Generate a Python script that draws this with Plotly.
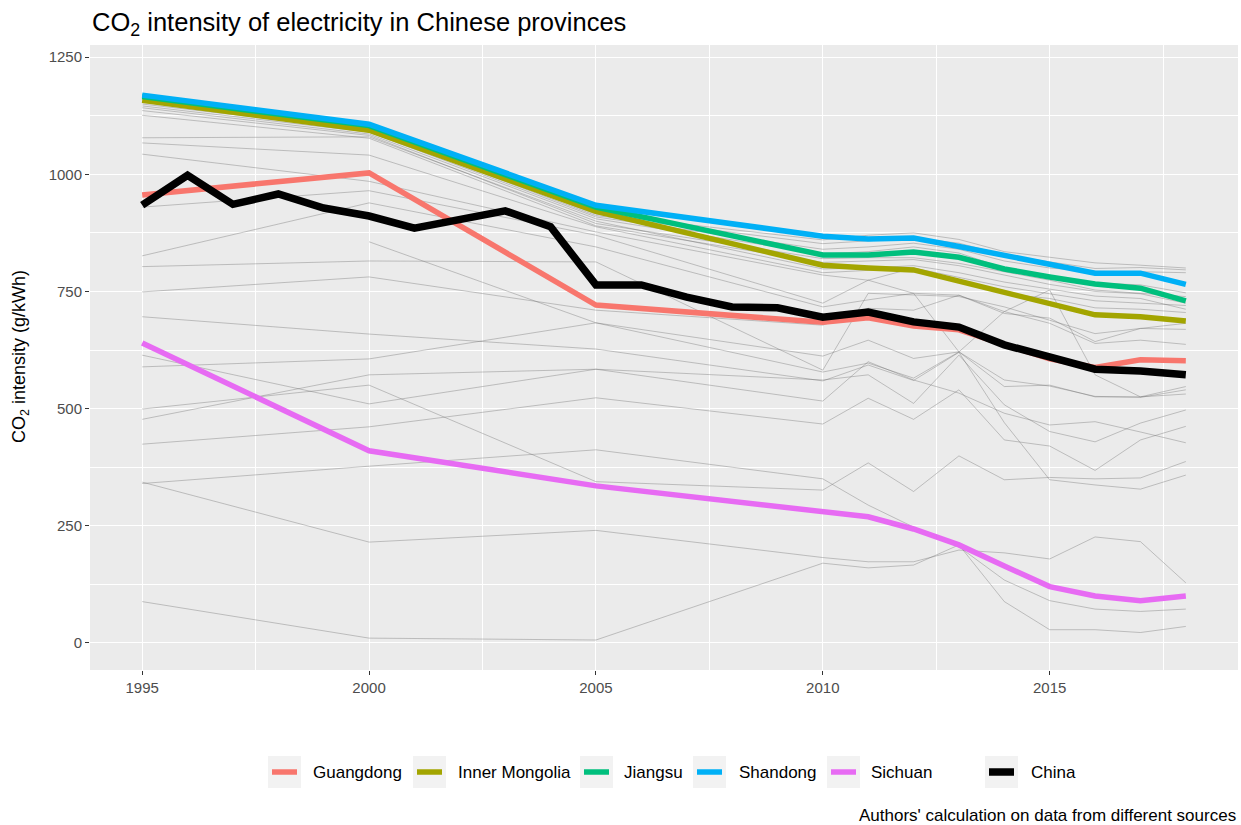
import plotly.graph_objects as go

# ---------------- data ----------------
years_prov = [1995, 2000, 2005, 2010, 2011, 2012, 2013, 2014, 2015, 2016, 2017, 2018]
years_china = list(range(1995, 2019))

guangdong = [956, 1003, 721, 684, 694, 676, 668, 636, 606, 588, 604, 602]
inner_mongolia = [1158, 1094, 921, 806, 800, 796, 772, 749, 725, 700, 696, 687]
jiangsu = [1166, 1104, 930, 828, 828, 834, 823, 798, 781, 766, 757, 730]
shandong = [1169, 1107, 934, 868, 862, 864, 846, 826, 808, 789, 789, 765]
sichuan = [640, 410, 335, 279, 269, 243, 209, 164, 120, 100, 90, 100]
china = [934, 998, 936, 958, 928, 911, 885, 903, 922, 888, 764, 764,
         738, 717, 715, 695, 706, 685, 674, 636, 608, 584, 580, 572]

# other provinces (grey)
other_01 = [1154, 1098, 915, 860, 870, 875, 861, 835, 823, 811, 806, 800]
other_02 = [1150, 1094, 912, 852, 858, 864, 853, 828, 813, 799, 801, 796]
other_03 = [1146, 1090, 909, 840, 845, 853, 840, 815, 800, 793, 792, 790]
other_04 = [1142, 1086, 905, 830, 835, 845, 832, 800, 781, 768, 764, 747]
other_05 = [1136, 1083, 895, 820, 822, 822, 810, 792, 774, 753, 746, 739]
other_06 = [1126, 1077, 890, 812, 815, 818, 805, 785, 765, 750, 745, 725]
other_07 = [1078, 1080, 900, 798, 800, 805, 790, 770, 755, 740, 735, 712]
other_08 = [1067, 1041, 888, 790, 795, 800, 775, 745, 735, 715, 712, 705]
other_09 = [1043, 985, 877, 785, 774, 746, 621, 561, 548, 526, 524, 540]
other_10 = [930, 965, 870, 725, 774, 800, 780, 760, 745, 730, 725, 720]
other_11 = [826, 939, 845, 717, 732, 746, 742, 703, 693, 643, 671, 682]
other_12 = [803, 815, 813, 582, 746, 742, 739, 717, 689, 660, 671, 669]
other_13 = [749, 781, 710, 678, 714, 710, 742, 707, 682, 639, 646, 637]
other_14 = [None, 856, 683, 612, 646, 607, 621, 707, 753, 572, 525, 547]
other_15 = [589, 606, 683, 578, 597, 565, 621, 547, 550, 525, 525, 531]
other_16 = [696, 659, 627, 559, 593, 560, 620, 470, 348, 337, 328, 358]
other_17 = [477, 572, 584, 561, 572, 511, 614, 508, 451, 429, 469, 497]
other_18 = [614, 510, 584, 516, 600, 561, 533, 490, 465, 472, 450, 427]
other_19 = [424, 461, 523, 467, 522, 477, 540, 433, 420, 368, 433, 462]
other_20 = [499, 550, 344, 326, 384, 323, 399, 348, 353, 350, 352, 387]
other_21 = [340, 377, 412, 350, 294, 247, 205, 134, 90, 72, 67, 72]
other_22 = [343, 215, 240, 182, 173, 173, 198, 192, 179, 226, 216, 128]
other_23 = [88, 10, 6, 170, 160, 166, 209, 88, 28, 28, 22, 35]

y_ticks = [0, 250, 500, 750, 1000, 1250]
x_ticks = [1995, 2000, 2005, 2010, 2015]

legend_names = ["Guangdong", "Inner Mongolia", "Jiangsu", "Shandong", "Sichuan", "China"]
legend_colors = ["#F8766D", "#A3A500", "#00BF7D", "#00B0F6", "#E76BF3", "#000000"]

# ---------------- figure ----------------
FONT = "Liberation Sans, Arial, sans-serif"
W, H = 1241, 825
L, R, T, B = 90, 3, 45, 155
PW, PH = W - L - R, H - T - B

def px_x(px):
    return (px - L) / PW

def px_y(py):
    return (H - B - py) / PH

fig = go.Figure()

others = [other_01, other_02, other_03, other_04, other_05, other_06, other_07, other_08,
          other_09, other_10, other_11, other_12, other_13, other_14, other_15, other_16,
          other_17, other_18, other_19, other_20, other_21, other_22, other_23]
for vals in others:
    fig.add_trace(go.Scatter(x=years_prov, y=vals, mode="lines",
                             line=dict(color="rgba(110,110,110,0.42)", width=0.9),
                             showlegend=False, hoverinfo="skip"))

highlight = [guangdong, inner_mongolia, jiangsu, shandong, sichuan]
for name, col, vals in zip(legend_names[:5], legend_colors[:5], highlight):
    fig.add_trace(go.Scatter(x=years_prov, y=vals, mode="lines", name=name,
                             line=dict(color=col, width=5.5), showlegend=False))

fig.add_trace(go.Scatter(x=years_china, y=china, mode="lines", name="China",
                         line=dict(color="#000000", width=7.5), showlegend=False))

# ---------------- manual legend (ggplot style) ----------------
key_left = [268, 413, 580, 693, 827, 985]
text_left = [311, 456, 622, 737, 869, 1029]
ly = 772
shapes = []
annotations = []
for i, (name, col) in enumerate(zip(legend_names, legend_colors)):
    x0 = key_left[i]
    shapes.append(dict(type="rect", xref="paper", yref="paper",
                       x0=px_x(x0), x1=px_x(x0 + 33), y0=px_y(ly + 16), y1=px_y(ly - 16),
                       fillcolor="#F2F2F2", line=dict(width=0), layer="below"))
    shapes.append(dict(type="line", xref="paper", yref="paper",
                       x0=px_x(x0 + 4), x1=px_x(x0 + 29), y0=px_y(ly), y1=px_y(ly),
                       line=dict(color=col, width=7.5 if name == "China" else 5.5)))
    annotations.append(dict(text=name, xref="paper", yref="paper", x=px_x(text_left[i]),
                            y=px_y(ly), xanchor="left", yanchor="middle", showarrow=False,
                            font=dict(family=FONT, size=17, color="#000000")))

annotations.append(dict(text="Authors' calculation on data from different sources",
                        xref="paper", yref="paper", x=px_x(1238), y=px_y(815),
                        xanchor="right", yanchor="middle", showarrow=False,
                        font=dict(family=FONT, size=17, color="#000000")))

annotations.append(dict(text="CO<sub>2</sub> intensity (g/kWh)", xref="paper", yref="paper",
                        x=px_x(20), y=px_y(357), xanchor="center", yanchor="middle",
                        textangle=-90, showarrow=False,
                        font=dict(family=FONT, size=18, color="#000000")))

fig.update_layout(
    width=W, height=H,
    margin=dict(l=L, r=R, t=T, b=B),
    paper_bgcolor="white",
    plot_bgcolor="#EBEBEB",
    title=dict(text="CO<sub>2</sub> intensity of electricity in Chinese provinces",
               x=92 / W, xref="container", xanchor="left",
               y=1 - 22 / H, yanchor="middle",
               font=dict(family=FONT, size=25.5, color="#000000")),
    shapes=shapes,
    annotations=annotations,
    showlegend=False,
    font=dict(family=FONT),
)

fig.update_xaxes(
    range=[1993.85, 2019.15], tickmode="array", tickvals=x_ticks,
    ticktext=[str(v) for v in x_ticks],
    showgrid=True, gridcolor="white", gridwidth=1.4,
    minor=dict(dtick=2.5, tick0=1992.5, showgrid=True, gridcolor="white", gridwidth=0.7),
    ticks="outside", ticklen=4, tickcolor="#333333", tickwidth=1,
    tickfont=dict(family=FONT, size=15, color="#4D4D4D"),
    zeroline=False, showline=False,
)
fig.update_yaxes(
    range=[-58, 1276], tickmode="array", tickvals=y_ticks,
    ticktext=[str(v) for v in y_ticks],
    showgrid=True, gridcolor="white", gridwidth=1.4,
    minor=dict(dtick=125, tick0=125, showgrid=True, gridcolor="white", gridwidth=0.7),
    ticks="outside", ticklen=4, tickcolor="#333333", tickwidth=1,
    tickfont=dict(family=FONT, size=15, color="#4D4D4D"),
    zeroline=False, showline=False,
)

fig.write_html("out.html", config={"displayModeBar": False},
               post_script="document.body.style.margin='0px';document.body.style.overflow='hidden';")
